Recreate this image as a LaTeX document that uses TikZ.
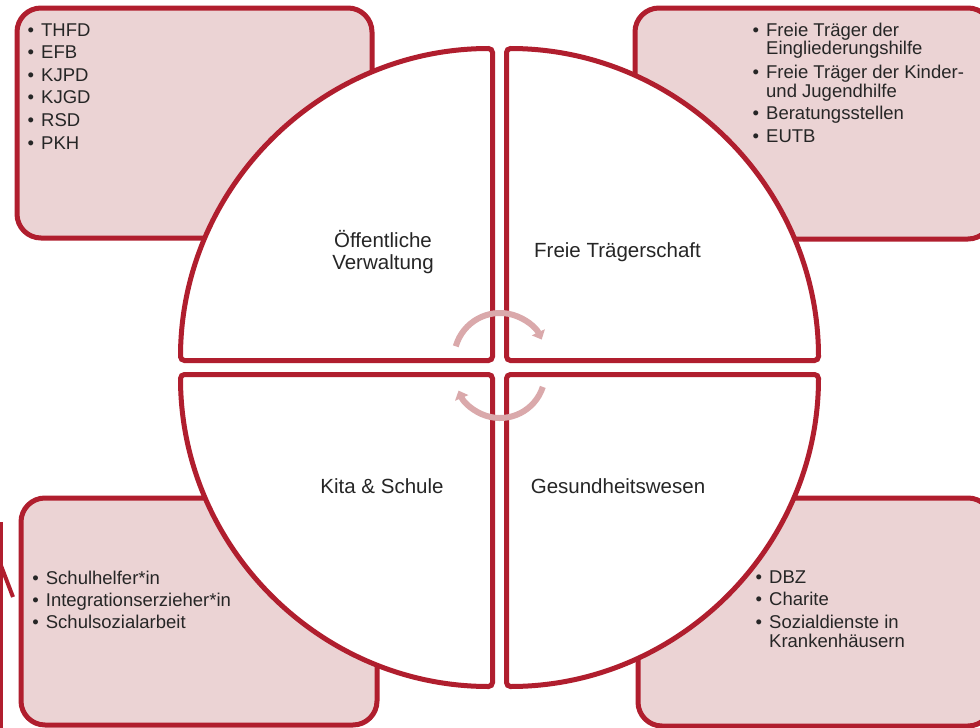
\documentclass[tikz,border=0pt]{standalone}
\usepackage{fontspec}
\setmainfont{Liberation Sans}
\usetikzlibrary{arrows.meta}
\definecolor{bred}{HTML}{B01E2E}
\definecolor{bpink}{HTML}{EBD3D4}
\definecolor{barrow}{HTML}{DAA9AB}
\definecolor{btext}{HTML}{262626}
\tikzset{
  box/.style={draw=bred, fill=bpink, line width=5pt, rounded corners=24pt, inner sep=0pt},
  quad/.style={draw=bred, fill=white, line width=5pt, rounded corners=4pt},
  frag/.style={draw=bred, line width=4pt},
  cyc/.style={draw=barrow, line width=6pt, -{Triangle[width=14pt,length=8pt]}},
  itemtext/.style={anchor=base west, inner sep=0pt, text=btext, font=\fontsize{18.5}{18.8}\selectfont},
  labeltext/.style={anchor=base, inner sep=0pt, text=btext, font=\fontsize{20.5}{21}\selectfont}
}
\newcommand{\bul}{\makebox[13.5pt][l]{•}}
\begin{document}
\begin{tikzpicture}[x=1pt,y=-1pt]
\useasboundingbox (0,0) rectangle (980,728);
\clip (0,0) rectangle (980,728);
\fill[white] (0,0) rectangle (980,728);
% corner boxes
\node[box, minimum width=355pt, minimum height=230pt] (tlbox) at (194.5,123) {};
\node[box, minimum width=357pt, minimum height=231pt] (trbox) at (813.5,123.5) {};
\node[box, minimum width=356pt, minimum height=227pt] (blbox) at (199,611.5) {};
\node[box, minimum width=354pt, minimum height=228pt] (brbox) at (815,612) {};
% fragment at left edge
\draw[frag] (1,522) -- (1,735);
\draw[frag] (0,563) -- (13,597);
% quadrants
\draw[quad] (180.5,360.5) -- (492.5,360.5) -- (492.5,48.5) arc[start angle=-90, end angle=-180, radius=312] -- cycle;
\draw[quad] (506.5,360.5) -- (818.5,360.5) arc[start angle=0, end angle=-90, radius=312] -- cycle;
\draw[quad] (492.5,374.5) -- (492.5,686.5) arc[start angle=90, end angle=180, radius=312] -- cycle;
\draw[quad] (506.5,374.5) -- (818.5,374.5) arc[start angle=0, end angle=90, radius=312] -- cycle;
% circular arrows
\draw[cyc] (500,359) ++(196:46) arc[start angle=196, end angle=335, radius=46];
\draw[cyc] (500,373) ++(18:45) arc[start angle=18, end angle=157, radius=45];
% labels
\node[labeltext] (ov1) at (383,247) {Öffentliche};
\node[labeltext] (ov2) at (383,269.5) {Verwaltung};
\node[labeltext] (ft) at (617.5,257) {Freie Trägerschaft};
\node[labeltext] (ks) at (382,493.5) {Kita \& Schule};
\node[labeltext] (gw) at (618,493) {Gesundheitswesen};
% TL list
\node[itemtext] (tl1) at (27.5,36) {\bul THFD};
\node[itemtext] (tl2) at (27.5,58.6) {\bul EFB};
\node[itemtext] (tl3) at (27.5,81.2) {\bul KJPD};
\node[itemtext] (tl4) at (27.5,103.8) {\bul KJGD};
\node[itemtext] (tl5) at (27.5,126.4) {\bul RSD};
\node[itemtext] (tl6) at (27.5,149) {\bul PKH};
% TR list
\node[itemtext] (tr1) at (752.5,36) {\bul Freie Träger der};
\node[itemtext] (tr1b) at (766,54.8) {Eingliederungshilfe};
\node[itemtext] (tr2) at (752.5,78.4) {\bul Freie Träger der Kinder-};
\node[itemtext] (tr2b) at (766,97.2) {und Jugendhilfe};
\node[itemtext] (tr3) at (752.5,119.8) {\bul Beratungsstellen};
\node[itemtext] (tr4) at (752.5,142.4) {\bul EUTB};
% BL list
\node[itemtext] (bl1) at (32.2,584) {\bul Schulhelfer*in};
\node[itemtext] (bl2) at (32.2,606.3) {\bul Integrationserzieher*in};
\node[itemtext] (bl3) at (32.2,628.6) {\bul Schulsozialarbeit};
% BR list
\node[itemtext] (br1) at (755.5,583) {\bul DBZ};
\node[itemtext] (br2) at (755.5,605.6) {\bul Charite};
\node[itemtext] (br3) at (755.5,628.2) {\bul Sozialdienste in};
\node[itemtext] (br3b) at (769,647) {Krankenhäusern};
\end{tikzpicture}
\end{document}
